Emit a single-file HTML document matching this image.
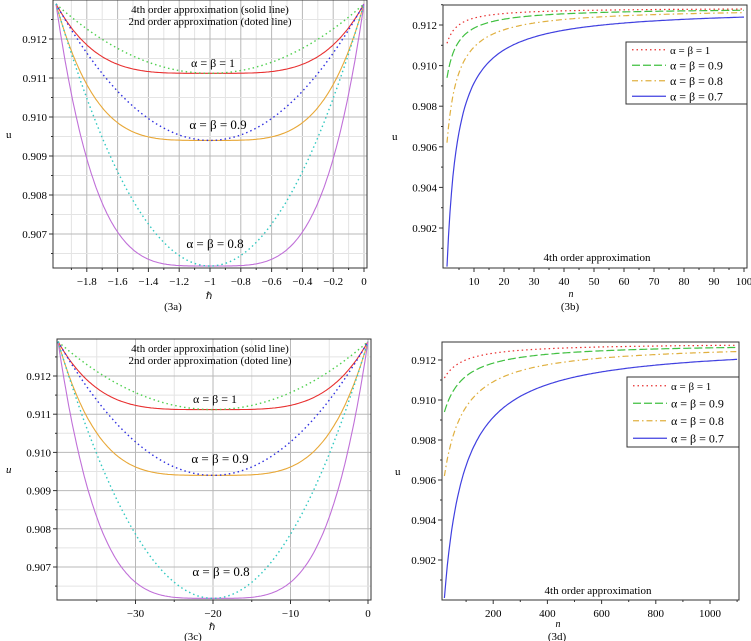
<!DOCTYPE html>
<html><head><meta charset="utf-8"><style>
body{margin:0;background:#fff;}
svg{display:block;font-family:"Liberation Serif",serif;}
</style></head><body>
<svg id="s" width="751" height="641" xmlns="http://www.w3.org/2000/svg"></svg>
<script>
const S=document.getElementById('s');let h='';
function panelU(o){
 // o: x0,x1,y0,y1 box; xmin,xmax; X(v)->px; Y(u)->px
 const {bx0,bx1,by0,by1,X,Y}=o;
 // grid
 if(o.grid){
  o.vlight.forEach(v=>h+=`<line x1="${X(v)}" y1="${by0}" x2="${X(v)}" y2="${by1}" stroke="#e4e4e4"/>`);
  o.vdark.forEach(v=>h+=`<line x1="${X(v)}" y1="${by0}" x2="${X(v)}" y2="${by1}" stroke="#b8b8b8"/>`);
  o.hlight.forEach(v=>h+=`<line x1="${bx0}" y1="${Y(v)}" x2="${bx1}" y2="${Y(v)}" stroke="#e4e4e4"/>`);
  o.hdark.forEach(v=>h+=`<line x1="${bx0}" y1="${Y(v)}" x2="${bx1}" y2="${Y(v)}" stroke="#b8b8b8"/>`);
 }
 h+=`<rect x="${bx0}" y="${by0}" width="${bx1-bx0}" height="${by1-by0}" fill="none" stroke="#333" stroke-width="1"/>`;
 o.yt.forEach(([v,l])=>{const y=Y(v);h+=`<line x1="${bx0-4}" y1="${y}" x2="${bx0}" y2="${y}" stroke="#333"/>`;if(l)h+=`<text x="${bx0-6}" y="${y+4}" font-size="11" text-anchor="end">${l}</text>`;});
 o.ym.forEach(v=>{const y=Y(v);h+=`<line x1="${bx0-2}" y1="${y}" x2="${bx0}" y2="${y}" stroke="#333"/>`;});
 o.xt.forEach(([v,l])=>{const x=X(v);h+=`<line x1="${x}" y1="${by1}" x2="${x}" y2="${by1+4}" stroke="#333"/>`;if(l)h+=`<text x="${x}" y="${by1+17}" font-size="11" text-anchor="middle">${l}</text>`;});
 o.xm.forEach(v=>{const x=X(v);h+=`<line x1="${x}" y1="${by1}" x2="${x}" y2="${by1+2}" stroke="#333"/>`;});
 o.series.forEach(s=>{let d='';for(let i=0;i<=200;i++){const v=s.a+(s.b-s.a)*i/200;d+=(i?'L':'M')+X(v).toFixed(1)+','+Y(s.f(v)).toFixed(1);}
  h+=`<path d="${d}" fill="none" stroke="${s.c}" stroke-width="${s.w||1.1}" ${s.da?`stroke-dasharray="${s.da}"`:''}/>`;});
}
const E=0.9129;
function ua(t,min,p){return min+(E-min)*Math.pow(Math.abs(t),p);}
function U(n,u1,c){const L=0.91285;return L-(L-u1)/(1+c*(n-1));}
// panel a
(function(){
 const X=v=>364+154*v, Y=u=>39+(0.912-u)*39000;
 let vl=[],vd=[],hl=[],hd=[];
 for(let v=-1.9;v<0;v+=0.2)vl.push(v);for(let v=-1.8;v<0.01;v+=0.2)vd.push(v);
 for(let u=0.9065;u<0.913;u+=0.001)hl.push(u);for(let u=0.907;u<0.9125;u+=0.001)hd.push(u);
 const ser=[[0.91112,'#e83030',4,''],[0.91112,'#50d050',2,'1.5,3'],[0.9094,'#e8a838',4,''],[0.9094,'#3030e0',2,'1.5,3'],[0.90618,'#c070d8',4,''],[0.90618,'#30c8c0',2,'1.5,3']]
  .map(([m,c,p,da])=>({a:-2,b:0,f:v=>ua(v+1,m,p),c,da,w:da?1.4:1.1}));
 panelU({bx0:53,bx1:367,by0:0,by1:268,X,Y,grid:1,vlight:vl,vdark:vd,hlight:hl,hdark:hd,
  yt:[[0.912,'0.912'],[0.911,'0.911'],[0.910,'0.910'],[0.909,'0.909'],[0.908,'0.908'],[0.907,'0.907']],
  ym:[0.9125,0.9115,0.9105,0.9095,0.9085,0.9075,0.9065],
  xt:[[-1.8,'−1.8'],[-1.6,'−1.6'],[-1.4,'−1.4'],[-1.2,'−1.2'],[-1,'−1'],[-0.8,'−0.8'],[-0.6,'−0.6'],[-0.4,'−0.4'],[-0.2,'−0.2'],[0,'0']],
  xm:[-1.9,-1.7,-1.5,-1.3,-1.1,-0.9,-0.7,-0.5,-0.3,-0.1],series:ser});
 h+=`<text x="210" y="13" font-size="11" text-anchor="middle">4th order approximation (solid line)</text><text x="210" y="25" font-size="11" text-anchor="middle">2nd order approximation (doted line)</text>
 <text x="213" y="67" font-size="12" text-anchor="middle">α = β = 1</text><text x="218" y="129" font-size="13" text-anchor="middle">α = β = 0.9</text><text x="215" y="248" font-size="13" text-anchor="middle">α = β = 0.8</text>
 <text x="6" y="138" font-size="11">u</text><text x="209" y="299" font-size="10" text-anchor="middle">ℏ</text><text x="173" y="310" font-size="11" text-anchor="middle">(3a)</text>`;
})();
// panel c
(function(){
 const X=v=>368+7.75*v, Y=u=>376+(0.912-u)*38200;
 let vl=[],vd=[],hl=[],hd=[];
 for(let v=-35;v<0;v+=10)vl.push(v);for(let v=-30;v<1;v+=10)vd.push(v);
 for(let u=0.9065;u<0.913;u+=0.001)hl.push(u);for(let u=0.907;u<0.9125;u+=0.001)hd.push(u);
 const ser=[[0.91112,'#e83030',4,''],[0.91112,'#50d050',2,'1.5,3'],[0.9094,'#e8a838',4,''],[0.9094,'#3030e0',2,'1.5,3'],[0.90618,'#c070d8',4,''],[0.90618,'#30c8c0',2,'1.5,3']]
  .map(([m,c,p,da])=>({a:-40,b:0,f:v=>ua(v/20+1,m,p),c,da,w:da?1.4:1.1}));
 panelU({bx0:57,bx1:371,by0:339,by1:600,X,Y,grid:1,vlight:vl,vdark:vd,hlight:hl,hdark:hd,
  yt:[[0.912,'0.912'],[0.911,'0.911'],[0.910,'0.910'],[0.909,'0.909'],[0.908,'0.908'],[0.907,'0.907']],
  ym:[0.9125,0.9115,0.9105,0.9095,0.9085,0.9075,0.9065],
  xt:[[-30,'−30'],[-20,'−20'],[-10,'−10'],[0,'0']],xm:[-35,-25,-15,-5],series:ser});
 h+=`<text x="210" y="352" font-size="11" text-anchor="middle">4th order approximation (solid line)</text><text x="210" y="364" font-size="11" text-anchor="middle">2nd order approximation (doted line)</text>
 <text x="215" y="403" font-size="12" text-anchor="middle">α = β = 1</text><text x="220" y="463" font-size="13" text-anchor="middle">α = β = 0.9</text><text x="221" y="576" font-size="13" text-anchor="middle">α = β = 0.8</text>
 <text x="6" y="473" font-size="11" font-style="italic">u</text><text x="212" y="630" font-size="10" text-anchor="middle">ℏ</text><text x="193" y="640" font-size="11" text-anchor="middle">(3c)</text>`;
})();
function legend(x0,y0,x1,y1){
 const rows=[['#e83030','1.5,3','α = β = 1'],['#40c040','8,3','α = β = 0.9'],['#e0b040','6,3,1.5,3','α = β = 0.8'],['#4040e0','','α = β = 0.7']];
 h+=`<rect x="${x0}" y="${y0}" width="${x1-x0}" height="${y1-y0}" fill="#fff" stroke="#333"/>`;
 const dy=(y1-y0)/4;
 rows.forEach((r,i)=>{const y=y0+dy*(i+0.5);h+=`<line x1="${x0+6}" y1="${y}" x2="${x0+40}" y2="${y}" stroke="${r[0]}" stroke-width="1.2" ${r[1]?`stroke-dasharray="${r[1]}"`:''}/><text x="${x0+44}" y="${y+4}" font-size="${i?12:11}">${r[2]}</text>`;});
}
const bser=(a,b,c)=>[[0.9111,'#e83030','1.5,3'],[0.9094,'#40c040','8,3'],[0.9062,'#e0b040','6,3,1.5,3'],[0.9001,'#4040e0','']].map(([u1,col,da])=>({a,b,f:n=>U(n*c,u1,0.27),c:col,da,w:1.2}));
// panel b
(function(){
 const X=v=>444+3.0*v, Y=u=>25+(0.912-u)*20300;
 panelU({bx0:443,bx1:747,by0:5,by1:268,X,Y,
  yt:[[0.912,'0.912'],[0.910,'0.910'],[0.908,'0.908'],[0.906,'0.906'],[0.904,'0.904'],[0.902,'0.902']],
  ym:[0.913,0.911,0.909,0.907,0.905,0.903,0.901],
  xt:[[10,'10'],[20,'20'],[30,'30'],[40,'40'],[50,'50'],[60,'60'],[70,'70'],[80,'80'],[90,'90'],[100,'100']],
  xm:[5,15,25,35,45,55,65,75,85,95],series:bser(1,100,1)});
 legend(626,42,747,104);
 h+=`<text x="597" y="261" font-size="11" text-anchor="middle">4th order approximation</text>
 <text x="392" y="140" font-size="11">u</text><text x="571" y="297" font-size="10" font-style="italic" text-anchor="middle">n</text><text x="570" y="310" font-size="11" text-anchor="middle">(3b)</text>`;
})();
// panel d
(function(){
 const X=v=>439+0.271*v, Y=u=>360+(0.912-u)*20000;
 panelU({bx0:442,bx1:739,by0:342,by1:600,X,Y,
  yt:[[0.912,'0.912'],[0.910,'0.910'],[0.908,'0.908'],[0.906,'0.906'],[0.904,'0.904'],[0.902,'0.902']],
  ym:[0.911,0.909,0.907,0.905,0.903,0.901],
  xt:[[200,'200'],[400,'400'],[600,'600'],[800,'800'],[1000,'1000']],xm:[100,300,500,700,900,1100],
  series:bser(20,1100,0.05)});
 legend(627,377,739,447);
 h+=`<text x="598" y="594" font-size="11" text-anchor="middle">4th order approximation</text>
 <text x="395" y="475" font-size="11">u</text><text x="558" y="627" font-size="10" font-style="italic" text-anchor="middle">n</text><text x="557" y="640" font-size="11" text-anchor="middle">(3d)</text>`;
})();
S.innerHTML=h;
</script>
</body></html>
